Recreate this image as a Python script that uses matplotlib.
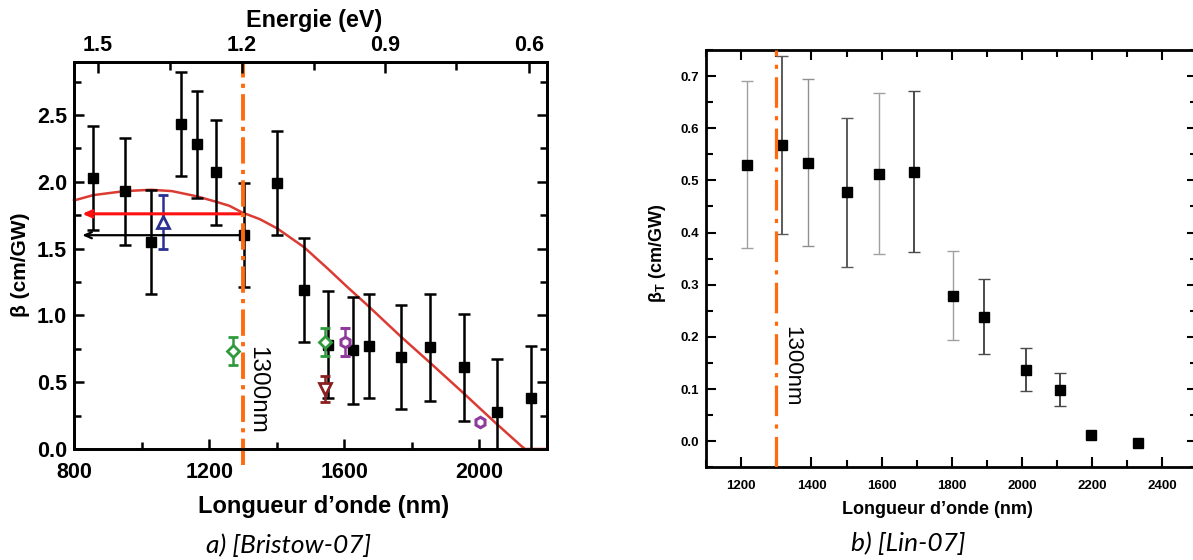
import matplotlib
matplotlib.use('Agg')
import matplotlib.pyplot as plt
from matplotlib.ticker import MultipleLocator, FixedLocator

plt.rcParams['font.family'] = ['Liberation Sans', 'DejaVu Sans']
plt.rcParams['mathtext.fontset'] = 'custom'
plt.rcParams['mathtext.rm'] = 'Liberation Sans'
plt.rcParams['mathtext.bf'] = 'Liberation Sans:bold'
plt.rcParams['mathtext.it'] = 'Liberation Sans:italic'
plt.rcParams['lines.scale_dashes'] = False

# ---------------- data: a) Bristow-07 ----------------
bristow_wl = [857, 950, 1028, 1118, 1165, 1221, 1302, 1400, 1482, 1551, 1625, 1673, 1768, 1853, 1953, 2051, 2153]
bristow_beta = [2.03, 1.93, 1.55, 2.43, 2.28, 2.07, 1.60, 1.99, 1.19, 0.78, 0.74, 0.77, 0.69, 0.76, 0.61, 0.28, 0.38]
bristow_err = [0.39, 0.40, 0.39, 0.39, 0.40, 0.39, 0.39, 0.39, 0.39, 0.40, 0.40, 0.39, 0.39, 0.40, 0.40, 0.39, 0.39]

tri_up_wl, tri_up_beta, tri_up_err = [1063], [1.70], [0.20]
diamond_wl, diamond_beta, diamond_err = [1272, 1542], [0.73, 0.80], [0.105, 0.105]
tri_down_wl, tri_down_beta, tri_down_err = [1542], [0.45], [0.095]
hex_wl, hex_beta, hex_err = [1602, 2002], [0.80, 0.20], [0.105, 0.0]

fit_wl = [800, 857, 950, 1028, 1090, 1165, 1221, 1260, 1298, 1350, 1402, 1481, 1551, 1610,
          1669, 1768, 1852, 1952, 2050, 2125, 2135, 2200]
fit_beta = [1.86, 1.90, 1.93, 1.94, 1.93, 1.89, 1.85, 1.82, 1.77, 1.72, 1.65, 1.51, 1.35, 1.21,
            1.075, 0.84, 0.65, 0.42, 0.19, 0.02, 0.0, 0.0]

arrow_red_beta = 1.76
arrow_black_beta = 1.60
arrow_tip_wl = 816

top_tick_wl = [870, 1296, 1720, 2147]
top_tick_labels = ['1.5', '1.2', '0.9', '0.6']
top_minor_wl = [1084, 1510, 1932]

# ---------------- data: b) Lin-07 ----------------
lin_wl = [1217, 1316, 1391, 1500, 1593, 1693, 1803, 1892, 2012, 2108, 2199, 2332]
lin_beta = [0.530, 0.568, 0.534, 0.477, 0.513, 0.517, 0.279, 0.239, 0.137, 0.099, 0.012, -0.003]
lin_err = [0.160, 0.170, 0.160, 0.143, 0.155, 0.155, 0.085, 0.072, 0.041, 0.031, 0.0, 0.0]
lin_err_color = ['#a0a0a0', '#5a5a5a', '#909090', '#5a5a5a', '#a0a0a0', '#4a4a4a',
                 '#a0a0a0', '#4a4a4a', '#4a4a4a', '#4a4a4a', '#4a4a4a', '#4a4a4a']
lin_err_width = [1.0, 1.4, 1.0, 1.4, 1.0, 1.4, 1.0, 1.4, 1.4, 1.4, 1.4, 1.4]

cutoff_wl = 1300
ORANGE = '#ff6a0d'

W, H = 1193, 560
fig = plt.figure(figsize=(W / 100, H / 100), dpi=100)


def fx(px):
    return px / W


def fy(py):
    return 1 - py / H


# =============== Left panel ===============
L0, R0, T0, B0 = 74, 547, 61.5, 449
axL = fig.add_axes([fx(L0), fy(B0), (R0 - L0) / W, (B0 - T0) / H])
axL.set_xlim(800, 2200)
axL.set_ylim(0, 2.9)

axL.plot(fit_wl, fit_beta, color='#dc3b33', lw=1.8, zorder=2.6, clip_on=False)

axL.errorbar(bristow_wl, bristow_beta, yerr=bristow_err, fmt='s', color='black', ms=7.5,
             elinewidth=1.8, capsize=4, capthick=1.8, zorder=3)
axL.errorbar(tri_up_wl, tri_up_beta, yerr=tri_up_err, fmt='^', color='#2b3190', mfc='white',
             mec='#2b3190', mew=2, ms=8, elinewidth=1.8, capsize=3.5, capthick=1.8, zorder=4)
axL.errorbar(diamond_wl, diamond_beta, yerr=diamond_err, fmt='D', color='#2f9a3c', mfc='white',
             mec='#2f9a3c', mew=2, ms=6.5, elinewidth=1.8, capsize=3.5, capthick=1.8, zorder=4)
axL.errorbar(tri_down_wl, tri_down_beta, yerr=tri_down_err, fmt='v', color='#8a1f1f', mfc='white',
             mec='#8a1f1f', mew=2, ms=8, elinewidth=1.8, capsize=3.5, capthick=1.8, zorder=4)
axL.errorbar(hex_wl, hex_beta, yerr=hex_err, fmt='h', color='#8e3b9c', mfc='white',
             mec='#8e3b9c', mew=2.2, ms=7.5, elinewidth=1.8, capsize=3.5, capthick=1.8, zorder=4)

axL.annotate('', xy=(arrow_tip_wl, arrow_red_beta), xytext=(cutoff_wl, arrow_red_beta),
             arrowprops=dict(arrowstyle='->,head_length=0.5,head_width=0.22', color='#ff1010', lw=2.2),
             zorder=5)
axL.annotate('', xy=(arrow_tip_wl, arrow_black_beta), xytext=(cutoff_wl, arrow_black_beta),
             arrowprops=dict(arrowstyle='->,head_length=0.5,head_width=0.22', color='black', lw=1.6),
             zorder=5)

vl = axL.plot([cutoff_wl, cutoff_wl], [-0.12, 2.9], color=ORANGE, lw=2.8, clip_on=False, zorder=6)[0]
vl.set_dashes((19, 4.5, 3, 4.5))
axL.text(1341, 0.44, '1300nm', rotation=-90, fontsize=17.5, ha='center', va='center', color='black')

axL.xaxis.set_major_locator(FixedLocator([800, 1200, 1600, 2000]))
axL.xaxis.set_minor_locator(FixedLocator([1000, 1400, 1800, 2200]))
axL.yaxis.set_major_locator(MultipleLocator(0.5))
axL.yaxis.set_minor_locator(MultipleLocator(0.25))
axL.set_yticklabels([f'{v:.1f}' for v in axL.get_yticks()])
axL.tick_params(which='both', direction='in', top=False, right=True, width=1.8,
                labelsize=15.5)
axL.tick_params(axis='x', which='both', pad=9)
axL.tick_params(axis='y', which='both', pad=5)
axL.tick_params(which='major', length=7)
axL.tick_params(which='minor', length=5)
for lab in axL.get_xticklabels() + axL.get_yticklabels():
    lab.set_fontweight('bold')
for s in axL.spines.values():
    s.set_linewidth(2)

axT = axL.twiny()
axT.set_xlim(800, 2200)
axT.xaxis.set_major_locator(FixedLocator(top_tick_wl))
axT.set_xticklabels(top_tick_labels)
axT.xaxis.set_minor_locator(FixedLocator(top_minor_wl))
axT.tick_params(axis='x', which='both', direction='in', width=1.8, labelsize=15.5, pad=4)
axT.tick_params(axis='x', which='major', length=8)
axT.tick_params(axis='x', which='minor', length=6)
for lab in axT.get_xticklabels():
    lab.set_fontweight('bold')
for s in axT.spines.values():
    s.set_linewidth(2)

fig.text(fx(314), fy(20), 'Energie (eV)', fontsize=16.8, fontweight='bold', ha='center', va='center')
fig.text(fx(324), fy(507), 'Longueur d\u2019onde (nm)', fontsize=17, fontweight='bold',
         ha='center', va='center')
fig.text(fx(21), fy(265), '\u03b2 (cm/GW)', fontsize=15, fontweight='bold', rotation=90,
         ha='center', va='center')
fig.text(fx(289), fy(545), 'a) [Bristow-07]', fontsize=19, style='italic',
         family=['Lato', 'Open Sans', 'DejaVu Sans'], ha='center', va='center')

# =============== Right panel ===============
L1, R1, T1, B1 = 706.3, 1197, 50, 467.3
axR = fig.add_axes([fx(L1), fy(B1), (R1 - L1) / W, (B1 - T1) / H])
axR.set_xlim(1100, 2500)
axR.set_ylim(-0.05, 0.75)

for x, y, e, c, w in zip(lin_wl, lin_beta, lin_err, lin_err_color, lin_err_width):
    if e > 0:
        axR.errorbar([x], [y], yerr=[e], fmt='none', ecolor=c, elinewidth=w,
                     capsize=4, capthick=1.0, zorder=2)
axR.plot(lin_wl, lin_beta, 's', color='black', ms=6.5, zorder=3, linestyle='none')

vr = axR.plot([cutoff_wl, cutoff_wl], [-0.05, 0.75], color=ORANGE, lw=2.3, zorder=4)[0]
vr.set_dashes((22, 6, 3, 6))
axR.text(1343, 0.143, '1300nm', rotation=-90, fontsize=16, ha='center', va='center', color='black')

axR.xaxis.set_major_locator(MultipleLocator(200))
axR.xaxis.set_minor_locator(MultipleLocator(100))
axR.yaxis.set_major_locator(FixedLocator([0, 0.1, 0.2, 0.3, 0.4, 0.5, 0.6, 0.7]))
axR.yaxis.set_minor_locator(FixedLocator([-0.05, 0.05, 0.15, 0.25, 0.35, 0.45, 0.55, 0.65, 0.75]))
axR.set_yticklabels([f'{v:.1f}' for v in [0, 0.1, 0.2, 0.3, 0.4, 0.5, 0.6, 0.7]])
axR.tick_params(which='both', direction='in', top=True, right=True, width=1.5, labelsize=9.5)
axR.tick_params(which='major', length=7)
axR.tick_params(which='minor', length=5)
axR.tick_params(axis='x', which='both', pad=9)
axR.tick_params(axis='y', which='both', pad=5)
for lab in axR.get_xticklabels() + axR.get_yticklabels():
    lab.set_fontweight('bold')
for s in axR.spines.values():
    s.set_linewidth(2)

fig.text(fx(937), fy(509), 'Longueur d\u2019onde (nm)', fontsize=13, fontweight='bold',
         ha='center', va='center')
fig.text(fx(658), fy(253), '\u03b2$_{\\mathbf{T}}$ (cm/GW)', fontsize=13, fontweight='bold',
         rotation=90, ha='center', va='center')
fig.text(fx(908), fy(543), 'b) [Lin-07]', fontsize=19, style='italic',
         family=['Lato', 'Open Sans', 'DejaVu Sans'], ha='center', va='center')

fig.savefig('out.png', dpi=100)
